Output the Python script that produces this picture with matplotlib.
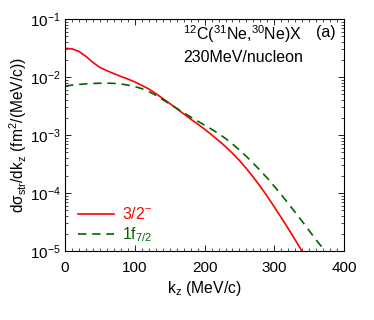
import numpy as np
import matplotlib
matplotlib.use("Agg")
import matplotlib.pyplot as plt
from matplotlib.ticker import MultipleLocator, LogLocator

plt.rcParams['font.family'] = ['Liberation Sans', 'DejaVu Sans']
plt.rcParams['mathtext.fontset'] = 'custom'
plt.rcParams['mathtext.rm'] = 'Liberation Sans'
plt.rcParams['mathtext.it'] = 'Liberation Sans'
plt.rcParams['mathtext.sf'] = 'Liberation Sans'

# k_z (MeV/c) and log10 of the cross section
k_red = [0, 10, 20, 30, 40, 50, 60, 70, 80, 90, 100, 110, 120, 130, 140, 150,
         160, 170, 180, 190, 200, 210, 220, 230, 240, 250, 260, 270, 280, 290,
         300, 310, 320, 330, 340, 345]
log_red = [-1.505, -1.515, -1.56, -1.645, -1.75, -1.835, -1.892, -1.942, -1.99,
           -2.035, -2.085, -2.145, -2.205, -2.285, -2.37, -2.455, -2.545, -2.635,
           -2.725, -2.81, -2.90, -2.995, -3.095, -3.20, -3.315, -3.44, -3.58,
           -3.73, -3.89, -4.06, -4.24, -4.425, -4.615, -4.81, -5.01, -5.11]

k_green = [0, 10, 20, 30, 40, 50, 60, 70, 80, 90, 100, 110, 120, 130, 140, 150,
           160, 170, 180, 190, 200, 210, 220, 230, 240, 250, 260, 270, 280, 290,
           300, 310, 320, 330, 340, 350, 360, 370, 375]
log_green = [-2.155, -2.14, -2.128, -2.118, -2.111, -2.107, -2.106, -2.11, -2.12,
             -2.14, -2.165, -2.20, -2.25, -2.315, -2.39, -2.465, -2.54, -2.615,
             -2.69, -2.76, -2.83, -2.90, -2.975, -3.06, -3.155, -3.26, -3.37,
             -3.49, -3.615, -3.745, -3.885, -4.03, -4.18, -4.335, -4.49, -4.65,
             -4.81, -4.96, -5.04]

labels = ['3/2$^{-}$', '1f$_{7/2}$']
colors = ['#ff0000', '#006400']

sig_red = 10.0 ** np.array(log_red)
sig_green = 10.0 ** np.array(log_green)

fig = plt.figure(figsize=(3.74, 3.2), dpi=100)
ax = fig.add_axes([0.174, 0.2156, 0.746, 0.725])

ax.plot(k_red, sig_red, color=colors[0], lw=1.2, label=labels[0])
ax.plot(k_green, sig_green, color=colors[1], lw=1.2, ls=(0, (5, 3.5)), label=labels[1])

ax.set_yscale('log')
ax.set_xlim(0, 400)
ax.set_ylim(1e-5, 1e-1)

ax.xaxis.set_major_locator(MultipleLocator(100))
ax.xaxis.set_minor_locator(MultipleLocator(10))
ax.yaxis.set_minor_locator(LogLocator(base=10, subs=np.arange(2, 10)))
ax.set_yticks([1e-5, 1e-4, 1e-3, 1e-2, 1e-1])
ax.set_yticklabels(['10$^{-5}$', '10$^{-4}$', '10$^{-3}$', '10$^{-2}$', '10$^{-1}$'])

ax.tick_params(which='both', direction='in', top=True, right=True, labelsize=11)
ax.tick_params(which='major', length=4, width=0.6)
ax.tick_params(which='minor', length=2, width=0.5)
ax.tick_params(axis='x', pad=7)
ax.tick_params(axis='y', pad=3)
for s in ax.spines.values():
    s.set_linewidth(0.8)

ax.set_xlabel('k$_z$ (MeV/c)', fontsize=11.3, labelpad=3)
ax.set_ylabel('d$\\sigma_{\\rm str}$/dk$_z$ (fm$^2$/(MeV/c))', fontsize=11.2, labelpad=1)

ax.text(0.423, 0.935, '$^{12}$C($^{31}$Ne,$^{30}$Ne)X', transform=ax.transAxes,
        fontsize=11.5, va='center', ha='left')
ax.text(0.90, 0.94, '(a)', transform=ax.transAxes, fontsize=11.5, va='center', ha='left')
ax.text(0.423, 0.836, '230MeV/nucleon', transform=ax.transAxes, fontsize=11.5,
        va='center', ha='left')

ax.legend(loc='lower left', frameon=False, fontsize=11.3, labelcolor='linecolor',
          handlelength=2.3, handletextpad=0.5, borderaxespad=0.4,
          labelspacing=0.2, bbox_to_anchor=(0.0, -0.025))

fig.savefig('out.png', dpi=100)
